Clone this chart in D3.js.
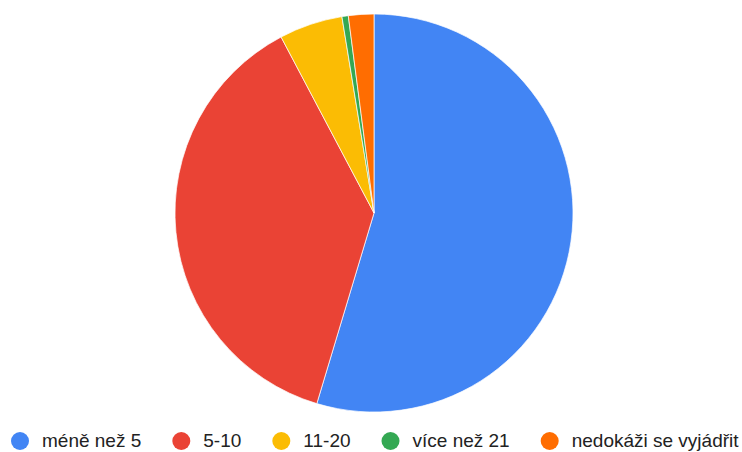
<!DOCTYPE html>
<html>
<head>
<meta charset="utf-8">
<script src="https://cdn.jsdelivr.net/npm/d3@7"></script>
<style>
  body { margin: 0; background: #fff; }
  text { font-family: "Liberation Sans", Arial, sans-serif; }
</style>
</head>
<body>
<svg id="chart" width="742" height="452"></svg>
<script>
// categories and answer counts
var categories = ['méně než 5', '5-10', '11-20', 'více než 21', 'nedokáži se vyjádřit'];
var counts = [106, 73, 10, 1, 4];
var colors = ['#4285f4', '#ea4335', '#fbbc04', '#34a853', '#ff6d01'];

drawPie();

function drawPie(){
    var svg = d3.select('#chart');
    var cx = 374, cy = 213, radius = 199;

    var data = categories.map(function(c, i){
        return {name: c, value: counts[i], color: colors[i]};
    });

    // pie starts at 12 o'clock and goes clockwise, keep input order
    var pie = d3.pie()
        .sort(null)
        .value(function(d){ return d.value });
    var arc = d3.arc()
        .innerRadius(0)
        .outerRadius(radius);

    var chart = svg.append('g')
        .attr('transform', 'translate(' + cx + ',' + cy + ')');

    chart.selectAll('path')
        .data(pie(data))
      .enter().append('path')
        .attr('d', arc)
        .attr('fill', function(d){ return d.data.color })
        .attr('stroke', '#fff')
        .attr('stroke-width', 0.7);

    // legend along the bottom
    var legend = svg.append('g')
        .attr('class', 'legend');
    var x = 20, baseline = 447, dotY = 441;
    data.forEach(function(d){
        legend.append('circle')
            .attr('cx', x)
            .attr('cy', dotY)
            .attr('r', 9)
            .attr('fill', d.color);
        var t = legend.append('text')
            .attr('x', x + 22)
            .attr('y', baseline)
            .attr('font-size', 19)
            .attr('fill', '#222')
            .text(d.name);
        x = x + 22 + t.node().getComputedTextLength() + 40;
    });
}
</script>
</body>
</html>
